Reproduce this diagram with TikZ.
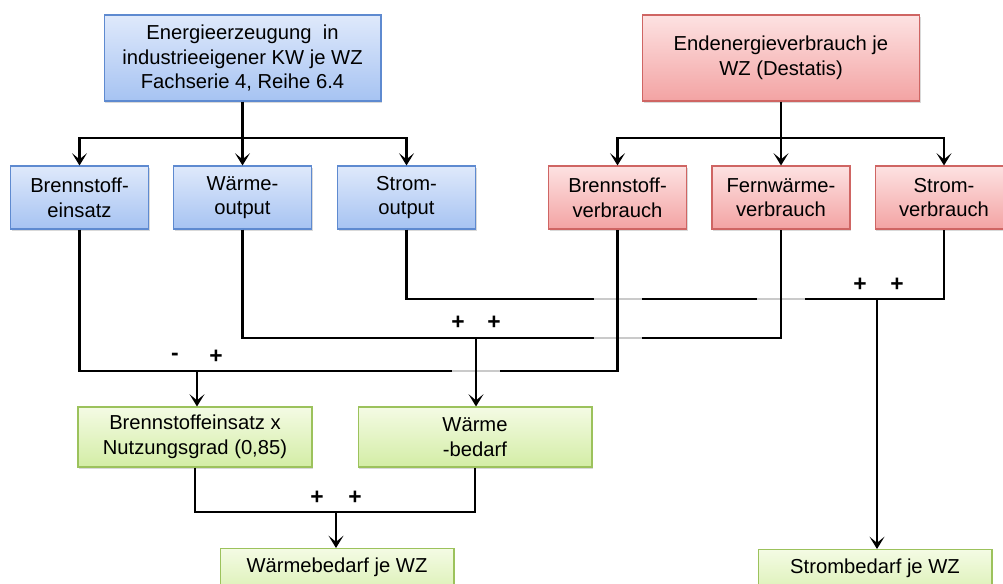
\documentclass[tikz,border=0pt]{standalone}
\usepackage{fontspec}
\setmainfont{Liberation Sans}
\usepackage{tikz}
\usetikzlibrary{arrows.meta,calc,shadows}

\definecolor{blueTop}{HTML}{DFE9FB}
\definecolor{blueBot}{HTML}{A6C3F2}
\definecolor{blueLine}{HTML}{5E8AD0}
\definecolor{redTop}{HTML}{FDE2E2}
\definecolor{redBot}{HTML}{F3A3A3}
\definecolor{redLine}{HTML}{CF6563}
\definecolor{greenTop}{HTML}{F4FBE4}
\definecolor{greenBot}{HTML}{D3EDA5}
\definecolor{greenLine}{HTML}{9CC25C}
\definecolor{gapGray}{HTML}{CACACA}

\begin{document}
\begin{tikzpicture}[x=0.02cm, y=-0.02cm,
    font=\fontsize{11.5}{14}\selectfont,
    box/.style={draw, line width=0.6pt, align=center, inner sep=2pt,
        drop shadow={shadow xshift=0.7pt, shadow yshift=-0.9pt, opacity=0.3}},
    srcbox/.style={box, draw=blueLine, top color=blueTop, bottom color=blueBot},
    usebox/.style={box, draw=redLine, top color=redTop, bottom color=redBot},
    resbox/.style={box, draw=greenLine, top color=greenTop, bottom color=greenBot},
    headbox/.style={minimum width=5.54cm, minimum height=1.72cm},
    itembox/.style={minimum width=2.76cm, minimum height=1.26cm},
    sumbox/.style={minimum width=4.68cm, minimum height=1.2cm},
    endbox/.style={minimum width=4.68cm, text height=11.5pt, text depth=18pt, anchor=north},
    line/.style={line width=1.5pt},
    arrow/.style={line, -{Stealth[length=7pt, width=8.5pt, inset=3.5pt]}},
    gap/.style={line width=1.5pt, gapGray},
    sign/.style={font=\fontsize{13}{13}\selectfont\bfseries, inner sep=0pt}
]
\useasboundingbox (0,0) rectangle (1003,583);
\clip (0,0) rectangle (1003,583);

% sources
\node[srcbox, headbox] (erz) at (242.5,58) {Energieerzeugung~~in\\industrieeigener KW je WZ\\Fachserie 4, Reihe 6.4};
\node[usebox, headbox] (endv) at (781,58) {Endenergieverbrauch je\\WZ (Destatis)};

% split into carriers
\node[srcbox, itembox] (bein) at (79.5,197.5) {Brennstoff-\\einsatz};
\node[srcbox, itembox] (wout) at (242.5,197.5) {Wärme-\\output};
\node[srcbox, itembox] (sout) at (406.5,197.5) {Strom-\\output};
\node[usebox, itembox] (bver) at (617.5,197.5) {Brennstoff-\\verbrauch};
\node[usebox, itembox] (fver) at (781,197.5) {Fernwärme-\\verbrauch};
\node[usebox, itembox] (sver) at (944,197.5) {Strom-\\verbrauch};

% results
\node[resbox, sumbox] (nutz) at (195,437) {Brennstoffeinsatz x\\Nutzungsgrad (0,85)};
\node[resbox, sumbox] (wbed) at (475,437) {Wärme\\-bedarf};
\node[resbox, endbox] (wges) at (337,548) {Wärmebedarf je WZ};
\node[resbox, endbox] (sbed) at (875,549) {Strombedarf je WZ};

% bus points
\coordinate (topL) at (242.5,138);
\coordinate (topR) at (781,138);
\coordinate (busS) at (877,299);
\coordinate (busW) at (476,338);
\coordinate (busB) at (197,371);
\coordinate (busG) at (336,512);

% top distribution
\draw[arrow] (erz.south) -- (wout.north);
\draw[arrow] (topL) -| (bein.north);
\draw[arrow] (topL) -| (sout.north);
\draw[arrow] (endv.south) -- (fver.north);
\draw[arrow] (topR) -| (bver.north);
\draw[arrow] (topR) -| (sver.north);

% Strom line
\draw[line] (sout.south) |- (busS) -| (sver.south);
\draw[gap] ($(bver.south |- busS)+(-24,0)$) -- ($(bver.south |- busS)+(24,0)$);
\draw[gap] ($(fver.south |- busS)+(-24,0)$) -- ($(fver.south |- busS)+(24,0)$);

% Waerme line
\draw[line] (wout.south) |- (busW) -| (fver.south);
\draw[gap] ($(bver.south |- busW)+(-24,0)$) -- ($(bver.south |- busW)+(24,0)$);

% Brennstoff line
\draw[line] (bein.south) |- (busB) -| (bver.south);
\draw[gap] ($(busW |- busB)+(-24,0)$) -- ($(busW |- busB)+(24,0)$);

\draw[arrow] (busS) -- (busS |- sbed.north);
\draw[arrow] (busW) -- (busW |- wbed.north);
\draw[arrow] (busB) -- (busB |- nutz.north);

% sum to Waermebedarf
\draw[line] (nutz.south) |- (busG) -| (wbed.south);
\draw[arrow] (busG) -- (busG |- wges.north);

% signs
\node[sign] (sgnSa) at (860,285) {+};
\node[sign] (sgnSb) at (897,285) {+};
\node[sign] (sgnWa) at (458,323) {+};
\node[sign] (sgnWb) at (494,323) {+};
\node[sign] (sgnBa) at (175,357) {-};
\node[sign] (sgnBb) at (216,357) {+};
\node[sign] (sgnGa) at (317,498) {+};
\node[sign] (sgnGb) at (355,498) {+};
\end{tikzpicture}
\end{document}
